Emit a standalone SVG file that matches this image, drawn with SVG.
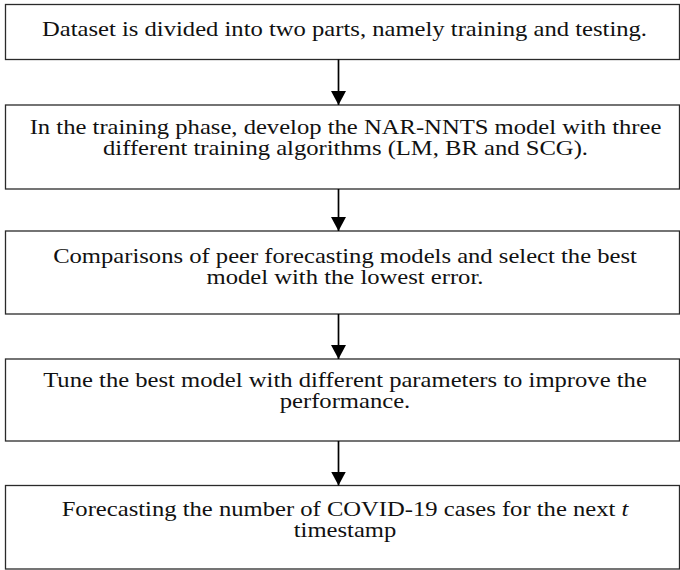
<svg xmlns="http://www.w3.org/2000/svg" width="680" height="570" viewBox="0 0 680 570">
<style>
.box{fill:#fff;stroke:#2a2a2a;stroke-width:1.3}
.t{font-family:"Liberation Serif","Times New Roman",serif;font-size:21.5px;fill:#111;text-anchor:middle}
.c{stroke:#000;stroke-width:1.7;fill:none}
</style>
<defs>
<marker id="ah" markerWidth="15" markerHeight="15" refX="14" refY="7.5" orient="auto" markerUnits="userSpaceOnUse" viewBox="0 0 15 15">
<path d="M0,0 L14,7.5 L0,15 Z" fill="#000"/>
</marker>
</defs>
<rect width="680" height="570" fill="#fff"/>
<g id="node1">
<rect class="box" x="5.5" y="4.5" width="674" height="55"/>
<g transform="translate(344.5,0) scale(1.145,1)">
<text class="t" x="0" y="36">Dataset is divided into two parts, namely training and testing.</text>
</g>
</g>
<g id="node2">
<rect class="box" x="5.5" y="105" width="674" height="84"/>
<g transform="translate(345.5,0) scale(1.145,1)">
<text class="t" x="0" y="134">In the training phase, develop the NAR-NNTS model with three<tspan x="0" dy="21">different training algorithms (LM, BR and SCG).</tspan></text>
</g>
</g>
<g id="node3">
<rect class="box" x="5.5" y="231" width="674" height="83"/>
<g transform="translate(345,0) scale(1.145,1)">
<text class="t" x="0" y="263.5">Comparisons of peer forecasting models and select the best<tspan x="0" dy="21">model with the lowest error.</tspan></text>
</g>
</g>
<g id="node4">
<rect class="box" x="5.5" y="359" width="674" height="82"/>
<g transform="translate(345,0) scale(1.145,1)">
<text class="t" x="0" y="387.5">Tune the best model with different parameters to improve the<tspan x="0" dy="21">performance.</tspan></text>
</g>
</g>
<g id="node5">
<rect class="box" x="5.5" y="485.5" width="674" height="83.5"/>
<g transform="translate(345,0) scale(1.145,1)">
<text class="t" x="0" y="516">Forecasting the number of COVID-19 cases for the next <tspan font-style="italic">t</tspan><tspan x="0" dy="21.5">timestamp</tspan></text>
</g>
</g>
<g id="connectors">
<line class="c" x1="338.5" y1="59.5" x2="338.5" y2="105" marker-end="url(#ah)"/>
<line class="c" x1="338.5" y1="189" x2="338.5" y2="231" marker-end="url(#ah)"/>
<line class="c" x1="338.5" y1="314" x2="338.5" y2="359" marker-end="url(#ah)"/>
<line class="c" x1="338.5" y1="441" x2="338.5" y2="485.5" marker-end="url(#ah)"/>
</g>
</svg>
